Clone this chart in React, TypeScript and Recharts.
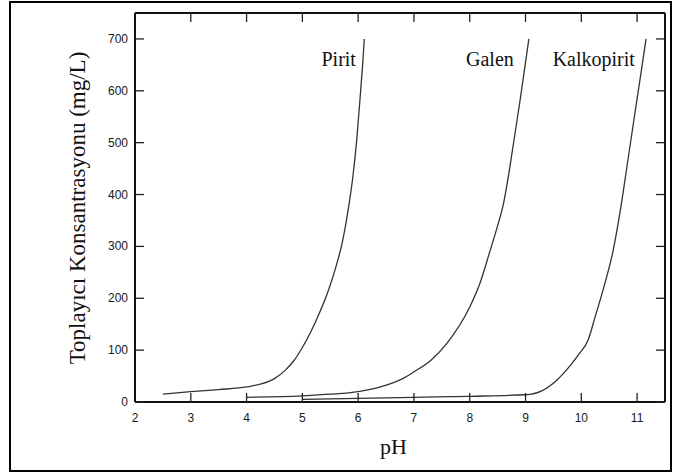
import React from 'react';
import { LineChart, Line, XAxis, YAxis, ReferenceDot } from 'recharts';

const piritPH = [2.5, 3.0, 3.5, 4.0, 4.5, 4.7, 4.85, 5.0, 5.15, 5.3, 5.45, 5.6, 5.72, 5.82, 5.9, 5.97, 6.03, 6.08, 6.11];
const piritC = [15, 20, 24, 29, 45, 62, 80, 105, 135, 170, 210, 260, 310, 370, 430, 500, 580, 650, 700];

const galenPH = [4.0, 5.0, 5.5, 6.0, 6.43, 6.8, 7.0, 7.3, 7.59, 8.0, 8.18, 8.36, 8.5, 8.6, 8.7, 8.8, 8.9, 8.98, 9.06];
const galenC = [9, 12, 15, 20, 30, 45, 58, 80, 113, 183, 228, 290, 340, 380, 440, 510, 580, 640, 700];

const kalkoPH = [5.0, 6.0, 7.0, 8.0, 9.0, 9.3, 9.56, 9.8, 9.97, 10.12, 10.25, 10.4, 10.57, 10.7, 10.82, 10.93, 11.05, 11.16];
const kalkoC = [5, 7, 9, 11, 14, 22, 42, 70, 94, 119, 165, 220, 292, 370, 455, 535, 620, 700];

const xTicks = [2, 3, 4, 5, 6, 7, 8, 9, 10, 11];
const yTicks = [0, 100, 200, 300, 400, 500, 600, 700];

const seriesNames = ['Pirit', 'Galen', 'Kalkopirit'];
const labelPos = [
  { x: 5.96, y: 663 },
  { x: 8.79, y: 663 },
  { x: 10.96, y: 663 },
];

const toData = (xs: number[], ys: number[]) => xs.map((x, i) => ({ x, y: ys[i] }));
const series = [toData(piritPH, piritC), toData(galenPH, galenC), toData(kalkoPH, kalkoC)];

const TICK_LEN = 9;
const tickFont = { fontFamily: 'Liberation Sans, Arial, sans-serif', fontSize: 12, fill: '#1a1a1a' };
const tickLineStyle = { stroke: '#222', strokeWidth: 1.3 };

const BottomTick = (p: any) => (
  <text x={p.x} y={p.y + 20} textAnchor="middle" {...tickFont}>{p.payload.value}</text>
);
const LeftTick = (p: any) => (
  <text x={p.x - 7} y={p.y + 4} textAnchor="end" {...tickFont}>{p.payload.value}</text>
);
const NoLabel = () => <g />;

const serif = 'Liberation Serif, Times New Roman, serif';

export default function App() {
  return (
    <div style={{ position: 'absolute', left: 0, top: 0, width: 675, height: 475, background: '#fff' }}>
      <div
        style={{
          position: 'absolute',
          left: 9,
          top: 1,
          width: 663,
          height: 471,
          border: '2px solid #000',
          boxSizing: 'border-box',
        }}
      />
      <div style={{ position: 'absolute', left: 0, top: 0 }}>
        <LineChart width={675} height={475} margin={{ top: 12, right: 9, bottom: 43, left: 95 }}>
          <XAxis
            xAxisId="b"
            dataKey="x"
            type="number"
            domain={[2, 11.5]}
            ticks={xTicks}
            interval={0}
            tickSize={-TICK_LEN}
            tickMargin={TICK_LEN}
            tick={<BottomTick />}
            axisLine={{ stroke: '#111', strokeWidth: 2 }}
            tickLine={tickLineStyle}
            height={30}
            allowDataOverflow
          />
          <XAxis
            xAxisId="t"
            orientation="top"
            dataKey="x"
            type="number"
            domain={[2, 11.5]}
            ticks={xTicks}
            interval={0}
            tickSize={-TICK_LEN}
            tickMargin={TICK_LEN}
            tick={<NoLabel />}
            axisLine={{ stroke: '#111', strokeWidth: 2 }}
            tickLine={tickLineStyle}
            height={1}
            allowDataOverflow
          />
          <YAxis
            yAxisId="l"
            type="number"
            domain={[0, 750]}
            ticks={yTicks}
            interval={0}
            tickSize={-TICK_LEN}
            tickMargin={TICK_LEN}
            tick={<LeftTick />}
            axisLine={{ stroke: '#111', strokeWidth: 2 }}
            tickLine={tickLineStyle}
            width={40}
            allowDataOverflow
          />
          <YAxis
            yAxisId="r"
            orientation="right"
            type="number"
            domain={[0, 750]}
            ticks={yTicks}
            interval={0}
            tickSize={-TICK_LEN}
            tickMargin={TICK_LEN}
            tick={<NoLabel />}
            axisLine={{ stroke: '#111', strokeWidth: 2 }}
            tickLine={tickLineStyle}
            width={1}
            allowDataOverflow
          />
          {series.map((d, i) => (
            <Line
              key={seriesNames[i]}
              xAxisId="b"
              yAxisId="l"
              data={d}
              dataKey="y"
              type="monotone"
              stroke="#333"
              strokeWidth={1.3}
              dot={false}
              activeDot={false}
              isAnimationActive={false}
            />
          ))}
          {seriesNames.map((name, i) => (
            <ReferenceDot
              key={'lbl' + name}
              xAxisId="b"
              yAxisId="l"
              x={labelPos[i].x}
              y={labelPos[i].y}
              r={0}
              fill="none"
              stroke="none"
              label={(props: any) => {
                const vb = props.viewBox || {};
                const cx = vb.x + (vb.width || 0) / 2;
                const cy = vb.y + (vb.height || 0) / 2;
                return (
                  <text x={cx} y={cy + 7.5} textAnchor="end" fontFamily={serif} fontSize={20} fill="#111">
                    {name}
                  </text>
                );
              }}
            />
          ))}
        </LineChart>
      </div>
      <div
        style={{
          position: 'absolute',
          left: 0,
          top: 434,
          width: 787,
          textAlign: 'center',
          fontFamily: serif,
          fontSize: 22,
          color: '#111',
        }}
      >
        pH
      </div>
      <div
        style={{
          position: 'absolute',
          left: 78,
          top: 208,
          transform: 'translate(-50%, -50%) rotate(-90deg)',
          whiteSpace: 'nowrap',
          fontFamily: serif,
          fontSize: 23,
          color: '#111',
        }}
      >
        Toplayıcı Konsantrasyonu (mg/L)
      </div>
    </div>
  );
}
